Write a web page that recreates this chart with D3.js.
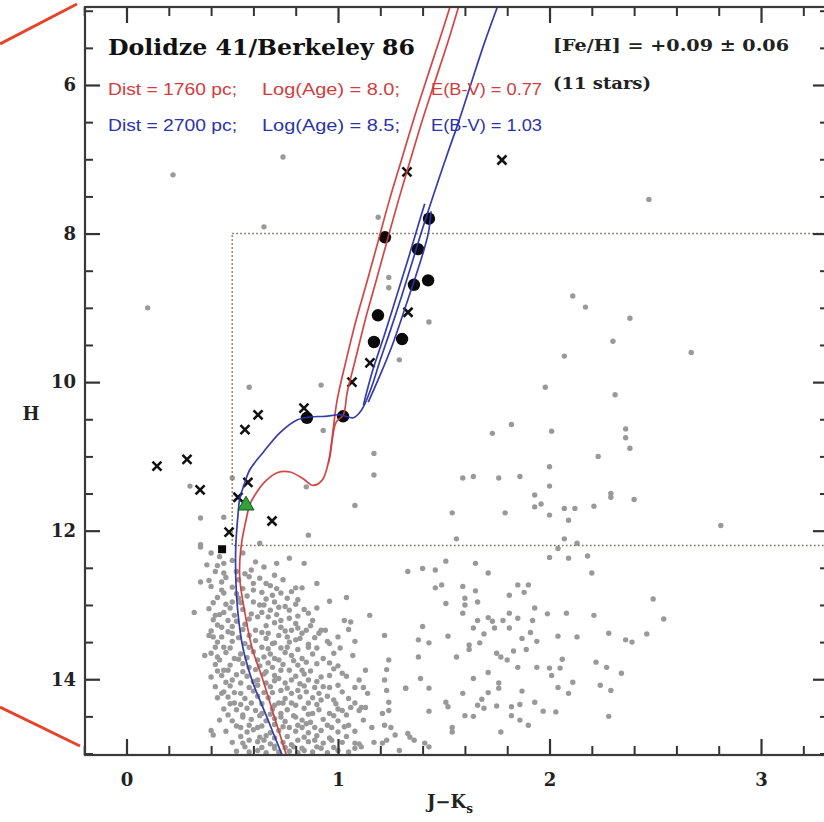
<!DOCTYPE html>
<html>
<head>
<meta charset="utf-8">
<script src="https://cdn.jsdelivr.net/npm/d3@7"></script>
<style>
  html, body { margin: 0; padding: 0; background: #fff; }
  svg { display: block; }
</style>
</head>
<body>
<svg id="chart" width="824" height="822"></svg>
<script>
// ---------- Data: colour (J-Ks) and magnitude (H) ----------

// Field stars, sparse upper part of the diagram
const fieldUpper = [
  [0.74,6.97],[0.22,7.21],[1.19,7.78],[0.65,7.91],[0.10,9.00],[1.24,8.59],[1.24,8.73],
  [1.43,9.19],[1.29,9.70],[0.92,10.04],[0.58,10.07],[2.47,7.54],[2.11,8.84],[2.17,8.99],
  [2.38,9.14],[2.30,9.45],[2.07,9.65],[2.67,9.60],[1.98,10.07]
];

// Field stars, middle right
const fieldMiddle = [
  [2.31,10.17],[1.82,10.57],[1.73,10.69],[2.01,10.66],[2.36,10.63],[2.36,10.75],[2.38,10.89],
  [2.23,11.00],[2.00,11.14],[1.59,11.29],[1.64,11.27],[1.76,11.29],[1.86,11.27],[2.00,11.40],
  [1.93,11.52],[1.93,11.68],[1.96,11.64],[2.29,11.50],[2.29,11.55],[2.40,11.58],[1.54,11.76],
  [1.79,11.76],[2.00,11.79],[2.07,11.70],[2.12,11.70],[2.21,11.67],[2.09,11.86],[2.81,11.93],
  [1.56,12.11],[2.07,12.11],[2.04,12.24],[2.13,12.17],[2.00,12.36],[2.09,12.37],[2.18,12.34],
  [1.51,12.41],[1.65,12.44],[1.40,12.51],[1.46,12.53],[1.33,12.55],[1.71,12.57],[2.20,12.57],
  [0.93,10.65],[1.08,11.66],[1.17,11.25],[1.17,10.96],[0.85,11.41],[0.86,12.06],[0.35,11.83],
  [0.46,11.82],[0.35,12.19],[0.30,11.40],[0.50,11.29],[0.63,12.17]
];

// Field stars, lower right
const fieldLower = [
  [1.46,12.77],[1.49,12.73],[1.59,12.75],[1.65,12.81],[1.85,12.73],[1.90,12.73],[1.81,12.87],[1.88,12.83],
  [1.51,12.98],[1.60,12.91],[1.60,13.00],[1.66,12.96],[1.59,13.11],[1.93,13.04],[2.49,12.92],[2.54,13.19],
  [2.08,13.11],[2.21,13.14],[1.99,13.12],[1.81,13.11],[1.66,13.21],[1.71,13.17],[1.73,13.22],[1.78,13.21],
  [1.85,13.18],[1.92,13.21],[1.40,13.29],[1.64,13.31],[1.74,13.31],[1.81,13.31],[1.91,13.37],[1.52,13.42],
  [1.69,13.39],[2.04,13.42],[2.13,13.43],[2.28,13.38],[2.46,13.39],[2.36,13.47],[2.39,13.50],[1.38,13.47],
  [1.43,13.51],[1.62,13.54],[1.67,13.51],[1.87,13.45],[1.94,13.49],[1.89,13.60],[1.83,13.62],[1.62,13.60],
  [1.56,13.70],[1.38,13.70],[1.75,13.65],[1.77,13.70],[1.80,13.74],[1.85,13.84],[2.06,13.73],[2.22,13.77],
  [1.94,13.84],[2.00,13.85],[2.05,13.85],[2.01,13.95],[2.27,13.84],[2.34,13.92],[1.71,13.91],[1.64,13.99],
  [1.39,13.99],[1.32,14.12],[1.43,14.12],[1.76,14.05],[1.76,14.12],[2.04,14.11],[2.11,14.04],[2.09,14.19],
  [2.24,14.08],[2.29,14.15],[1.59,14.19],[1.71,14.18],[1.87,14.16],[1.51,14.31],[1.52,14.37],[1.68,14.27],
  [1.66,14.35],[1.69,14.39],[1.75,14.36],[1.82,14.37],[1.86,14.34],[1.93,14.31],[1.97,14.43],[2.03,14.44],
  [1.43,14.43],[1.60,14.49],[1.64,14.50],[1.82,14.49],[1.86,14.55],[1.90,14.62],[2.28,14.50],[1.54,14.65],
  [1.54,14.71],[1.77,14.71],[1.34,14.78],[1.41,14.86],[1.43,14.91]
];

// Main-sequence cloud below the turn-off
const sequenceStars = [
  [0.32,13.10],[0.83,12.77],[0.90,12.71],[0.96,12.95],[1.04,12.90],[1.15,13.14],[1.22,13.41],[0.86,13.11],
  [0.90,13.04],[0.91,13.38],[1.08,13.49],[1.05,13.33],[1.06,13.23],[0.37,13.68],[0.39,13.41],[1.07,13.68],
  [1.01,13.58],[1.24,13.74],[1.23,13.87],[1.22,14.01],[1.32,14.12],[1.23,14.15],[1.24,14.31],[1.24,14.42],
  [1.13,13.88],[1.10,14.01],[1.12,14.11],[1.06,14.38],[1.13,14.38],[1.22,14.62],[1.25,14.65],[1.08,14.86],
  [1.17,14.85],[1.23,14.82],[1.27,14.75],[0.40,14.69],[0.41,14.75],
  [0.35,12.22],[0.38,12.46],[0.35,12.69],[0.39,12.67],[0.45,12.69],[0.46,12.44],[0.46,12.57],[0.59,12.53],
  [0.65,12.49],[0.63,12.64],[0.71,12.44],[0.77,12.37],[0.84,12.44],[0.66,12.71],[0.60,12.71],[0.64,12.83],
  [0.69,12.87],[0.73,12.84],[0.76,12.91],[0.46,12.84],[0.50,12.96],[0.60,12.96],[0.65,13.00],[0.72,13.03],
  [0.77,13.07],[0.42,13.14],[0.46,13.10],[0.48,13.21],[0.62,13.16],[0.67,13.16],[0.73,13.21],[0.80,13.25],
  [0.78,13.34],[0.85,13.34],[0.80,13.47],[0.45,13.30],[0.41,13.43],[0.50,13.38],[0.61,13.34],[0.67,13.38],
  [0.72,13.41],[0.69,13.52],[0.73,13.58],[0.64,13.57],[0.46,13.57],[0.43,13.70],[0.51,13.72],[0.65,13.70],
  [0.72,13.74],[0.78,13.68],[0.83,13.72],[0.86,13.57],[0.83,13.88],[0.77,13.88],[0.69,13.84],[0.58,13.84],
  [0.46,13.88],[0.40,13.97],[0.50,14.01],[0.62,14.01],[0.72,13.99],[0.78,14.01],[0.86,14.01],[0.92,13.97],
  [0.96,14.11],[0.89,14.11],[0.81,14.15],[0.73,14.15],[0.65,14.18],[0.54,14.19],[0.45,14.19],[0.51,14.32],
  [0.59,14.32],[0.72,14.32],[0.78,14.32],[0.86,14.32],[0.92,14.28],[0.98,14.28],[1.02,14.42],[0.96,14.46],
  [0.88,14.46],[0.80,14.51],[0.73,14.51],[0.64,14.46],[0.55,14.51],[0.54,14.65],[0.62,14.65],[0.77,14.65],
  [0.83,14.65],[0.89,14.65],[0.97,14.65],[1.05,14.62],[1.08,14.32],[0.58,14.82],[0.65,14.82],[0.81,14.82],
  [0.89,14.82],[0.97,14.82],[0.62,14.96],[0.70,14.93],[0.84,14.96],[0.92,14.93],[1.00,14.96],
  [1.03,13.21],[1.00,13.43],[0.94,13.34],[0.96,13.52],[0.96,13.78],[1.02,13.92],[1.08,14.11],[1.14,14.19],
  [1.11,14.38],[1.21,14.46],[1.16,14.65],[1.33,14.73],[1.36,14.82],[1.21,14.86],[1.11,14.91],[1.29,14.96],
  [0.42,12.55],[0.52,12.55],[0.56,12.58],[0.70,12.60],
  [0.40,12.75],[0.50,12.76],[0.55,12.78],[0.68,12.74],[0.80,12.77],
  [0.43,12.90],[0.53,12.91],[0.57,12.88],[0.66,12.92],[0.81,12.93],
  [0.39,13.05],[0.49,13.04],[0.55,13.06],[0.68,13.07],[0.75,13.02],[0.84,13.06],
  [0.41,13.20],[0.52,13.22],[0.58,13.19],[0.70,13.24],[0.77,13.18],[0.88,13.21],
  [0.40,13.35],[0.48,13.36],[0.55,13.33],[0.64,13.37],[0.75,13.35],[0.83,13.38],[0.92,13.34],
  [0.43,13.50],[0.50,13.49],[0.56,13.52],[0.61,13.48],[0.70,13.51],[0.77,13.50],[0.86,13.53],[0.95,13.49],
  [0.40,13.65],[0.47,13.64],[0.54,13.66],[0.60,13.63],[0.68,13.66],[0.75,13.64],[0.88,13.66],[0.98,13.65],
  [0.42,13.80],[0.49,13.81],[0.55,13.79],[0.63,13.82],[0.67,13.78],[0.74,13.80],[0.81,13.81],[0.90,13.79],[1.00,13.82],
  [0.45,13.95],[0.52,13.94],[0.57,13.96],[0.65,13.93],[0.70,13.95],[0.80,13.96],[0.84,13.93],[0.96,13.95],[1.04,13.96],
  [0.42,14.10],[0.49,14.09],[0.58,14.11],[0.62,14.08],[0.68,14.10],[0.76,14.12],[0.84,14.09],[0.93,14.10],[1.00,14.08],
  [0.43,14.25],[0.48,14.24],[0.56,14.26],[0.62,14.23],[0.67,14.25],[0.75,14.26],[0.82,14.24],[0.88,14.25],[0.95,14.23],[1.05,14.26],
  [0.46,14.40],[0.52,14.41],[0.57,14.39],[0.61,14.42],[0.69,14.40],[0.76,14.41],[0.84,14.39],[0.91,14.41],[1.00,14.40],[1.10,14.42],
  [0.44,14.55],[0.50,14.56],[0.59,14.54],[0.66,14.56],[0.70,14.53],[0.75,14.57],[0.83,14.55],[0.87,14.58],[0.93,14.54],[1.00,14.56],[1.12,14.55],
  [0.47,14.70],[0.57,14.71],[0.60,14.68],[0.68,14.72],[0.72,14.69],[0.80,14.70],[0.86,14.72],[0.92,14.69],[1.00,14.71],[1.08,14.70],
  [0.50,14.85],[0.55,14.86],[0.62,14.84],[0.68,14.87],[0.74,14.85],[0.78,14.88],[0.86,14.84],[0.93,14.86],[1.02,14.85],[1.10,14.87],
  [0.52,14.97],[0.58,14.98],[0.66,14.99],[0.72,14.98],[0.77,14.97],[0.81,14.99],[0.88,14.98],[0.95,14.99],[1.05,14.98],
  [0.44,12.35],[0.50,12.40],[0.55,12.30],[0.61,12.42],[0.40,12.30],
  [0.47,12.63],[0.53,12.66],[0.58,12.62],[0.74,12.66],[0.43,12.47],
  [0.45,12.80],[0.52,12.85],[0.60,12.80],[0.71,12.78],[0.78,12.82],
  [0.41,12.97],[0.47,12.99],[0.54,12.97],[0.63,13.00],[0.70,12.96],[0.80,12.99],
  [0.44,13.13],[0.51,13.14],[0.59,13.12],[0.64,13.10],[0.71,13.13],[0.81,13.15],
  [0.43,13.27],[0.50,13.29],[0.56,13.26],[0.66,13.28],[0.73,13.30],[0.81,13.31],[0.87,13.28],
  [0.45,13.43],[0.53,13.44],[0.58,13.41],[0.66,13.45],[0.76,13.43],[0.82,13.45],[0.89,13.44],
  [0.42,13.57],[0.49,13.58],[0.58,13.57],[0.67,13.59],[0.76,13.57],[0.81,13.60],[0.90,13.58],
  [0.44,13.74],[0.53,13.73],[0.57,13.71],[0.62,13.74],[0.70,13.72],[0.79,13.75],[0.85,13.77],[0.93,13.72],
  [0.43,13.89],[0.48,13.88],[0.55,13.90],[0.61,13.87],[0.66,13.90],[0.73,13.88],[0.87,13.89],[0.98,13.86],
  [0.47,14.04],[0.54,14.05],[0.60,14.03],[0.66,14.05],[0.70,14.02],[0.75,14.05],[0.82,14.06],[0.90,14.03],
  [0.46,14.17],[0.51,14.18],[0.60,14.16],[0.69,14.18],[0.78,14.19],[0.85,14.17],[0.91,14.19],[1.02,14.17],
  [0.49,14.33],[0.54,14.34],[0.64,14.33],[0.70,14.35],[0.74,14.32],[0.80,14.35],[0.90,14.34],[0.99,14.33],
  [0.48,14.48],[0.55,14.48],[0.63,14.49],[0.68,14.47],[0.73,14.46],[0.79,14.49],[0.86,14.47],[0.98,14.49],[1.04,14.48],
  [0.52,14.63],[0.58,14.62],[0.64,14.63],[0.70,14.61],[0.74,14.64],[0.81,14.62],[0.85,14.60],[0.95,14.62],[1.03,14.64],
  [0.54,14.77],[0.63,14.78],[0.66,14.76],[0.70,14.79],[0.76,14.77],[0.84,14.78],[0.90,14.76],[0.96,14.79],[1.04,14.77],
  [0.56,14.91],[0.64,14.92],[0.70,14.90],[0.75,14.92],[0.79,14.91],[0.83,14.93],[0.90,14.91],[0.98,14.92],[1.08,14.93]
];

// Stars used for the metallicity estimate (filled circles) and the square one
const memberStars = [
  [1.222,8.05],[1.430,7.80],[1.378,8.21],[1.359,8.69],[1.426,8.63],[1.189,9.10],
  [1.170,9.46],[1.303,9.42],[1.024,10.46],[0.853,10.48]
];
const squareStars = [[0.452,12.25]];

// Other bright stars (crosses)
const crossStars = [
  [1.775,7.01],[1.326,7.17],[0.144,11.13],[0.286,11.04],[0.348,11.45],[0.560,10.64],
  [0.622,10.44],[0.839,10.35],[0.688,11.87],[0.527,11.55],[0.485,12.02],[1.066,10.00],
  [1.331,9.06],[0.574,11.35],[1.151,9.74]
];

// Turn-off marker
const turnoffStar = [[0.565,11.66]];

// Isochrone: Dist = 1760 pc, log(age) = 8.0, E(B-V) = 0.77
const redIso = [
  [0.759,15.05],[0.693,14.45],[0.645,14.01],[0.593,13.57],[0.560,13.11],[0.536,12.66],[0.536,12.39],
  [0.546,12.13],[0.565,11.86],[0.583,11.65],[0.607,11.52],[0.655,11.34],[0.712,11.22],[0.773,11.21],
  [0.835,11.30],[0.882,11.39],[0.925,11.32],[0.954,11.09],[0.972,10.78],[0.991,10.54],[1.025,10.44],
  [1.044,10.13],[1.082,9.70],[1.129,9.16],[1.181,8.63],[1.233,8.09],[1.286,7.55],[1.342,7.01],
  [1.399,6.47],[1.461,5.93],[1.523,5.39],[1.575,4.90]
];
const redIsoLate = [
  [0.954,11.09],[0.963,10.98],[0.977,10.64],[0.996,10.24],[1.039,9.70],[1.086,9.16],[1.139,8.63],
  [1.191,8.09],[1.243,7.55],[1.300,7.01],[1.357,6.47],[1.418,5.93],[1.480,5.39],[1.535,4.90]
];

// Isochrone: Dist = 2700 pc, log(age) = 8.5, E(B-V) = 1.03
const blueIso = [
  [0.740,15.05],[0.655,14.45],[0.593,14.01],[0.550,13.57],[0.527,13.11],[0.517,12.66],[0.517,12.19],
  [0.527,11.79],[0.536,11.56],[0.555,11.39],[0.583,11.18],[0.645,10.95],[0.726,10.68],[0.806,10.51],
  [0.868,10.47],[0.939,10.46],[1.010,10.44],[1.072,10.48],[1.105,10.40],[1.129,10.28],[1.162,10.04],
  [1.200,9.70],[1.248,9.30],[1.300,8.85],[1.347,8.42],[1.390,8.02],[1.433,7.64],[1.475,7.28],
  [1.523,6.88],[1.570,6.50],[1.627,6.00],[1.689,5.46],[1.760,4.90]
];
const blueLoopA = [
  [1.120,10.31],[1.162,9.86],[1.219,9.37],[1.276,8.85],[1.333,8.33],[1.380,7.88],[1.410,7.60]
];
const blueLoopB = [
  [1.143,10.27],[1.200,9.90],[1.257,9.50],[1.314,9.03],[1.361,8.63],[1.399,8.29],[1.428,7.98],[1.440,7.70]
];

// Selection box (J-Ks from, to; H from, to)
const boxJK = [0.5, 3.6];
const boxH = [8.0, 12.2];

// Axis ticks
const xMajor = [0, 1, 2, 3];
const xMinor = [-0.2,0.2,0.4,0.6,0.8,1.2,1.4,1.6,1.8,2.2,2.4,2.6,2.8,3.2];
const yMajor = [6, 8, 10, 12, 14];
const yMinor = [5.0,5.5,6.5,7.0,7.5,8.5,9.0,9.5,10.5,11.0,11.5,12.5,13.0,13.5,14.5,15.0];

// Texts
const titleText = "Dolidze 41/Berkeley 86";
const fehText = "[Fe/H] = +0.09 \u00b1 0.06";
const nStarsText = "(11 stars)";
const redLabel = ["Dist = 1760 pc;", "Log(Age) = 8.0;", "E(B-V) = 0.77"];
const blueLabel = ["Dist = 2700 pc;", "Log(Age) = 8.5;", "E(B-V) = 1.03"];

// ---------- Drawing ----------
const svg = d3.select('#chart');
const x = d3.scaleLinear().domain([-0.2, 3.32]).range([84.2, 828.7]);
const y = d3.scaleLinear().domain([4.95, 15.02]).range([7, 755]);
const L = 85, R = 828, T = 7, B = 755;

const RED = '#d23c3c', BLUE = '#2b33a8';
const SERIF = "'DejaVu Serif', serif";
const SANS = "'Liberation Sans', Arial, sans-serif";

// connector lines from an enclosing figure
svg.append('line').attr('x1', L - 8).attr('y1', T - 3).attr('x2', 0).attr('y2', 44)
  .attr('stroke', '#e5442a').attr('stroke-width', 3);
svg.append('line').attr('x1', L - 5).attr('y1', B - 9).attr('x2', 0).attr('y2', 707)
  .attr('stroke', '#e5442a').attr('stroke-width', 3);

svg.append('defs').append('clipPath').attr('id', 'plotclip')
  .append('rect').attr('x', L).attr('y', T).attr('width', R - L).attr('height', B - T);

const plot = svg.append('g').attr('clip-path', 'url(#plotclip)');

// field and cluster stars
const allGray = fieldUpper.concat(fieldMiddle, fieldLower, sequenceStars);
plot.append('g').selectAll('circle').data(allGray).join('circle')
  .attr('cx', d => x(d[0])).attr('cy', d => y(d[1])).attr('r', 2.7)
  .attr('fill', '#999');

// dotted selection box
plot.append('rect')
  .attr('x', x(boxJK[0])).attr('y', y(boxH[0]))
  .attr('width', x(boxJK[1]) - x(boxJK[0])).attr('height', y(boxH[1]) - y(boxH[0]))
  .attr('fill', 'none').attr('stroke', '#7c6a58').attr('stroke-width', 1.6)
  .attr('stroke-dasharray', '1.6,2.4');

// crosses
plot.append('g').selectAll('path').data(crossStars).join('path')
  .attr('transform', d => `translate(${x(d[0])},${y(d[1])})`)
  .attr('d', 'M-4.5,-4.5L4.5,4.5M-4.5,4.5L4.5,-4.5')
  .attr('stroke', '#111').attr('stroke-width', 2.6).attr('fill', 'none');

// filled members
plot.append('g').selectAll('circle').data(memberStars).join('circle')
  .attr('cx', d => x(d[0])).attr('cy', d => y(d[1])).attr('r', 6.2)
  .attr('fill', '#0a0a0a');
plot.append('g').selectAll('rect').data(squareStars).join('rect')
  .attr('x', d => x(d[0]) - 4).attr('y', d => y(d[1]) - 4)
  .attr('width', 8).attr('height', 8).attr('fill', '#0a0a0a');

// isochrones
const line = d3.line().x(d => x(d[0])).y(d => y(d[1])).curve(d3.curveCatmullRom.alpha(0.5));
[[redIsoLate, RED], [redIso, RED], [blueLoopA, BLUE], [blueLoopB, BLUE], [blueIso, BLUE]]
  .forEach(([pts, col]) => {
    plot.append('path').attr('d', line(pts)).attr('fill', 'none')
      .attr('stroke', col).attr('stroke-width', 1.7).attr('stroke-opacity', 0.95);
  });

// turn-off marker
plot.append('g').selectAll('path').data(turnoffStar).join('path')
  .attr('transform', d => `translate(${x(d[0])},${y(d[1])})`)
  .attr('d', d3.symbol(d3.symbolTriangle, 110)())
  .attr('fill', '#2fa33a').attr('stroke', '#145a1c').attr('stroke-width', 1);

// ---------- Axes ----------
function styleAxis(g, width) {
  g.select('.domain').remove();
  g.selectAll('.tick line').attr('stroke', '#333').attr('stroke-width', width);
  g.selectAll('text').attr('font-family', SERIF).attr('font-weight', 'bold')
    .attr('font-size', 18).attr('fill', '#222');
}
svg.append('g').attr('transform', `translate(0,${B})`)
  .call(d3.axisBottom(x).tickValues(xMajor).tickSize(-16).tickPadding(18).tickFormat(d3.format('d')))
  .call(g => styleAxis(g, 2.2));
svg.append('g').attr('transform', `translate(0,${B})`)
  .call(d3.axisBottom(x).tickValues(xMinor).tickSize(-9).tickFormat(''))
  .call(g => styleAxis(g, 2));
svg.append('g').attr('transform', `translate(0,${T})`)
  .call(d3.axisTop(x).tickValues(xMajor).tickSize(-16).tickFormat(''))
  .call(g => styleAxis(g, 2.2));
svg.append('g').attr('transform', `translate(0,${T})`)
  .call(d3.axisTop(x).tickValues(xMinor).tickSize(-9).tickFormat(''))
  .call(g => styleAxis(g, 2));
svg.append('g').attr('transform', `translate(${L},0)`)
  .call(d3.axisLeft(y).tickValues(yMajor).tickSize(-15).tickPadding(9).tickFormat(d3.format('d')))
  .call(g => styleAxis(g, 2.2));
svg.append('g').attr('transform', `translate(${L},0)`)
  .call(d3.axisLeft(y).tickValues(yMinor).tickSize(-8).tickFormat(''))
  .call(g => styleAxis(g, 2));
svg.append('g').attr('transform', `translate(${R},0)`)
  .call(d3.axisRight(y).tickValues(yMajor).tickSize(-15).tickFormat(''))
  .call(g => styleAxis(g, 2.2));
svg.append('g').attr('transform', `translate(${R},0)`)
  .call(d3.axisRight(y).tickValues(yMinor).tickSize(-8).tickFormat(''))
  .call(g => styleAxis(g, 2));

// frame
svg.append('rect').attr('x', L).attr('y', T).attr('width', R - L).attr('height', B - T)
  .attr('fill', 'none').attr('stroke', '#3a3a3a').attr('stroke-width', 2.2);

// axis titles
svg.append('text').attr('x', 31).attr('y', 420).attr('text-anchor', 'middle')
  .attr('font-family', SERIF).attr('font-weight', 'bold').attr('font-size', 18)
  .attr('fill', '#222').text('H');
const xl = svg.append('text').attr('x', 427).attr('y', 808)
  .attr('font-family', SERIF).attr('font-weight', 'bold').attr('font-size', 18).attr('fill', '#222');
xl.append('tspan').text('J\u2212K');
xl.append('tspan').attr('font-size', 12).attr('dy', 5).text('s');

// annotations
function fitText(tx, ty, str, w, opts) {
  return svg.append('text').attr('x', tx).attr('y', ty)
    .attr('textLength', w).attr('lengthAdjust', 'spacingAndGlyphs')
    .attr('font-family', opts.family).attr('font-weight', opts.weight || 'normal')
    .attr('font-size', opts.size).attr('fill', opts.fill).text(str);
}
fitText(108, 55, titleText, 307, {family: SERIF, weight: 'bold', size: 23, fill: '#111'});
fitText(553, 51, fehText, 236, {family: SERIF, weight: 'bold', size: 17, fill: '#222'});
fitText(553, 89, nStarsText, 98, {family: SERIF, weight: 'bold', size: 17, fill: '#222'});

const labelX = [108, 262, 431];
const labelW = [129, 138, 111];
redLabel.forEach((s, i) => fitText(labelX[i], 95, s, labelW[i], {family: SANS, size: 16, fill: RED}));
blueLabel.forEach((s, i) => fitText(labelX[i], 131, s, labelW[i], {family: SANS, size: 16, fill: BLUE}));
</script>
</body>
</html>
